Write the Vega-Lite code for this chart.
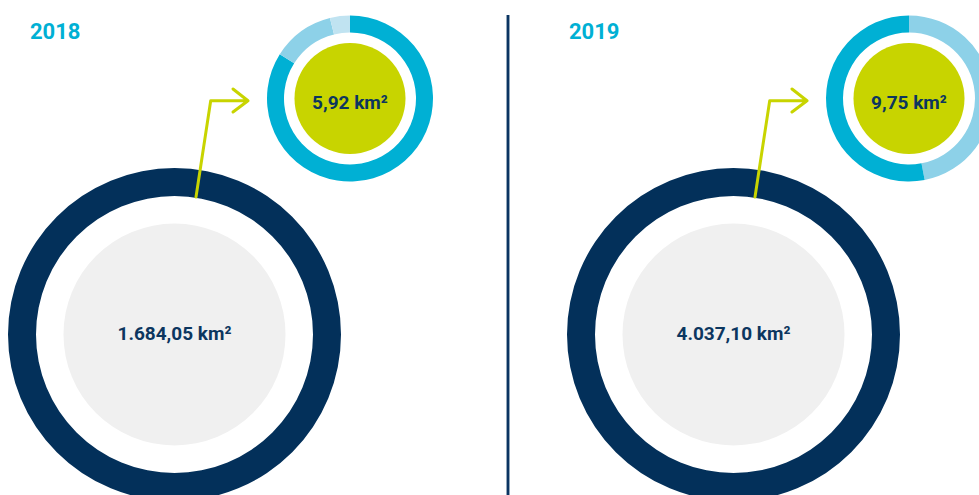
{
  "$schema": "https://vega.github.io/schema/vega-lite/v6.json",
  "width": 979,
  "height": 495,
  "autosize": {"type": "none"},
  "padding": 0,
  "background": "white",
  "config": {"view": {"stroke": null}},
  "datasets": {
    "jahre": [
      {"jahr": "2018", "gesamt": 1684.05, "gesamt_text": "1.684,05 km²", "teil": 5.92, "teil_text": "5,92 km²"},
      {"jahr": "2019", "gesamt": 4037.10, "gesamt_text": "4.037,10 km²", "teil": 9.75, "teil_text": "9,75 km²"}
    ],
    "anteile": [
      {"jahr": "2018", "kategorie": "Anteil 1", "wert": 4.97, "folge": 1},
      {"jahr": "2018", "kategorie": "Anteil 2", "wert": 0.72, "folge": 2},
      {"jahr": "2018", "kategorie": "Anteil 3", "wert": 0.23, "folge": 3},
      {"jahr": "2019", "kategorie": "Anteil 2", "wert": 4.58, "folge": 1},
      {"jahr": "2019", "kategorie": "Anteil 1", "wert": 5.17, "folge": 2}
    ]
  },
  "layer": [
    {
      "data": {"name": "jahre"},
      "mark": {"type": "rule", "color": "#0b3462", "strokeWidth": 2.5},
      "encoding": {"x": {"value": 508}, "y": {"value": 15}, "y2": {"value": 495}}
    },
    {
      "data": {"name": "jahre"},
      "mark": {"type": "text", "font": "Roboto", "fontWeight": "bold", "fontSize": 22, "color": "#00b0d4", "align": "left", "baseline": "alphabetic", "dy": -59.5},
      "encoding": {
        "x": {"field": "jahr", "type": "nominal", "scale": {"type": "point", "domain": ["2018", "2019"], "range": [30, 569], "padding": 0}, "axis": null},
        "y": {"datum": "Teilfläche", "type": "nominal", "scale": {"type": "point", "domain": ["Teilfläche", "Gesamt"], "range": [98.5, 334.5], "padding": 0}, "axis": null},
        "text": {"field": "jahr"}
      }
    },
    {
      "data": {"name": "jahre"},
      "encoding": {
        "x": {"field": "jahr", "type": "nominal", "scale": {"type": "point", "domain": ["2018", "2019"], "range": [174.5, 733.5], "padding": 0}, "axis": null},
        "y": {"datum": "Gesamt", "type": "nominal", "axis": null}
      },
      "layer": [
        {"mark": {"type": "arc", "theta": 0, "theta2": 6.2832, "radius": 166.5, "radius2": 138.5, "color": "#03305a"}},
        {"mark": {"type": "arc", "theta": 0, "theta2": 6.2832, "radius": 111, "radius2": 0, "color": "#f0f0f0"}},
        {"mark": {"type": "point", "shape": "M21.5,-137.5L36.2,-233.8L73.5,-233.8M58.5,-245.5L73.5,-233.8L58.5,-222.5", "size": 4, "filled": false, "stroke": "#c8d400", "strokeWidth": 3, "strokeCap": "round", "strokeJoin": "round", "opacity": 1}},
        {"mark": {"type": "text", "font": "Roboto", "fontWeight": "bold", "fontSize": 19, "color": "#0c365f", "align": "center", "baseline": "alphabetic", "dy": 5.5}, "encoding": {"text": {"field": "gesamt_text"}}}
      ]
    },
    {
      "data": {"name": "anteile"},
      "encoding": {
        "x": {"field": "jahr", "type": "nominal", "scale": {"type": "point", "domain": ["2018", "2019"], "range": [350, 909], "padding": 0}, "axis": null},
        "y": {"datum": "Teilfläche", "type": "nominal", "axis": null}
      },
      "layer": [
        {
          "transform": [{"filter": "datum.jahr == '2018'"}],
          "mark": {"type": "arc", "radius": 83, "radius2": 66},
          "encoding": {
            "theta": {"field": "wert", "type": "quantitative", "stack": "normalize"},
            "order": {"field": "folge", "type": "quantitative"},
            "color": {"field": "kategorie", "type": "nominal", "scale": {"domain": ["Anteil 1", "Anteil 2", "Anteil 3"], "range": ["#00b0d4", "#8dd1e8", "#c0e3f1"]}, "legend": null}
          }
        },
        {
          "transform": [{"filter": "datum.jahr == '2019'"}],
          "mark": {"type": "arc", "radius": 83, "radius2": 66},
          "encoding": {
            "theta": {"field": "wert", "type": "quantitative", "stack": "normalize"},
            "order": {"field": "folge", "type": "quantitative"},
            "color": {"field": "kategorie", "type": "nominal", "scale": {"domain": ["Anteil 1", "Anteil 2", "Anteil 3"], "range": ["#00b0d4", "#8dd1e8", "#c0e3f1"]}, "legend": null}
          }
        },
        {"data": {"name": "jahre"}, "mark": {"type": "arc", "theta": 0, "theta2": 6.2832, "radius": 55.5, "radius2": 0, "color": "#c8d400"}},
        {"data": {"name": "jahre"}, "mark": {"type": "text", "font": "Roboto", "fontWeight": "bold", "fontSize": 19, "color": "#0c365f", "align": "center", "baseline": "alphabetic", "dy": 10}, "encoding": {"text": {"field": "teil_text"}}}
      ]
    }
  ],
  "resolve": {"scale": {"x": "independent"}}
}
